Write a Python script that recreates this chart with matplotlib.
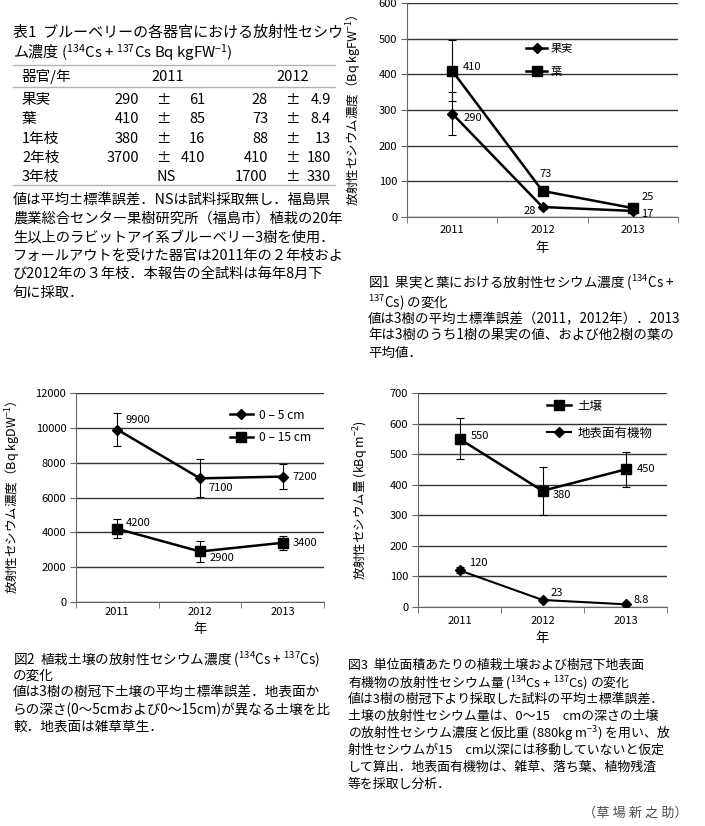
import numpy as np
import matplotlib
matplotlib.use('Agg')
import matplotlib.pyplot as plt
from matplotlib.lines import Line2D

plt.rcParams['font.family'] = ['Noto Sans CJK JP', 'DejaVu Sans']
plt.rcParams['mathtext.fontset'] = 'dejavusans'
plt.rcParams['mathtext.default'] = 'regular'

W, H = 705, 826
years = ['2011', '2012', '2013']

# table 1
organs = ['果実', '葉', '1年枝', '2年枝', '3年枝']
t_mean_2011 = [290, 410, 380, 3700, None]
t_se_2011 = [61, 85, 16, 410, None]
t_mean_2012 = [28, 73, 88, 410, 1700]
t_se_2012 = [4.9, 8.4, 13, 180, 330]

# fig 1
fruit = [290, 28, 17]
fruit_err = [61, 4.9, None]
leaf = [410, 73, 25]
leaf_err = [85, 8.4, None]

# fig 2
soil5 = [9900, 7100, 7200]
soil5_err = [950, 1090, 730]
soil15 = [4200, 2900, 3400]
soil15_err = [545, 600, 400]

# fig 3
soil_amt = [550, 380, 450]
soil_amt_err = [67, 79, 57]
litter = [120, 23, 8.8]
litter_err = [10, None, None]

fig = plt.figure(figsize=(W / 100, H / 100), dpi=100)


def fy(y):
    return 1 - y / H


def txt(x, y, s, **kw):
    kw.setdefault('fontsize', 10)
    kw.setdefault('va', 'center')
    fig.text(x / W, fy(y), s, **kw)


def lines_at(x, ys, lines, **kw):
    for y, s in zip(ys, lines):
        txt(x, y, s, **kw)


def add_ax(x0, y0, x1, y1):
    return fig.add_axes([x0 / W, 1 - y1 / H, (x1 - x0) / W, (y1 - y0) / H])


def style_ax(ax, ymax, ystep, xpad):
    ax.set_xlim(0, 3)
    ax.set_ylim(0, ymax)
    ax.set_yticks(np.arange(0, ymax + 1, ystep))
    ax.set_xticks([0.5, 1.5, 2.5])
    ax.set_xticklabels(years)
    ax.set_xticks([0, 1, 2, 3], minor=True)
    ax.tick_params(axis='x', which='major', length=0, labelsize=8, pad=xpad)
    ax.tick_params(axis='x', which='minor', length=4, direction='out', color='0.4')
    ax.tick_params(axis='y', length=4, direction='out', labelsize=8, pad=3, color='0.4')
    for s in ['top', 'right']:
        ax.spines[s].set_visible(False)
    ax.spines['left'].set_color('0.4')
    ax.spines['bottom'].set_color('0.4')
    ax.grid(axis='y', color='0.2', lw=1)
    ax.set_axisbelow(True)


def series(ax, vals, errs, marker, ms, lw, label):
    x = np.arange(3) + 0.5
    ax.plot(x, vals, color='black', lw=lw, marker=marker, ms=ms, label=label, zorder=3)
    idx = [i for i, e in enumerate(errs) if e is not None]
    ax.errorbar(x[idx], np.array(vals)[idx], yerr=np.array([errs[i] for i in idx]),
                fmt='none', ecolor='black', elinewidth=0.8, capsize=3, capthick=0.8, zorder=2)


def labels(ax, vals, offsets):
    x = np.arange(3) + 0.5
    for xi, v, (dx, dy, ha) in zip(x, vals, offsets):
        ax.annotate(f'{v:g}', (xi, v), xytext=(dx, dy), textcoords='offset points',
                    ha=ha, va='center', fontsize=8)


CS = '($^{134}$Cs + $^{137}$Cs)'

# ---------- table 1 ----------
txt(13, 33, '表1  ブルーベリーの各器官における放射性セシウ', fontsize=10.8)
txt(13, 53, 'ム濃度 ($^{134}$Cs + $^{137}$Cs Bq kgFW$^{-1}$)', fontsize=10.8)
for yy in (65, 87, 185):
    fig.add_artist(Line2D([13 / W, 335 / W], [fy(yy)] * 2, transform=fig.transFigure,
                          color='0.7', lw=1))
txt(22, 77, '器官/年', fontsize=10.5)
txt(168, 77, '2011', fontsize=10.5, ha='center')
txt(293, 77, '2012', fontsize=10.5, ha='center')
row_y = [100, 119, 139, 158, 177]
for i, org in enumerate(organs):
    y = row_y[i]
    txt(22, y, org, fontsize=10.5)
    if t_mean_2011[i] is None:
        txt(166, y, 'NS', fontsize=10.5, ha='center')
    else:
        txt(139, y, f'{t_mean_2011[i]:g}', fontsize=10.5, ha='right')
        txt(163, y, '±', fontsize=10.5, ha='center')
        txt(205, y, f'{t_se_2011[i]:g}', fontsize=10.5, ha='right')
    txt(268, y, f'{t_mean_2012[i]:g}', fontsize=10.5, ha='right')
    txt(292, y, '±', fontsize=10.5, ha='center')
    txt(331, y, f'{t_se_2012[i]:g}', fontsize=10.5, ha='right')

lines_at(13, [200, 218.6, 237.2, 255.8, 274.4, 293], [
    '値は平均±標準誤差．NSは試料採取無し．福島県',
    '農業総合センター果樹研究所（福島市）植栽の20年',
    '生以上のラビットアイ系ブルーベリー3樹を使用．',
    'フォールアウトを受けた器官は2011年の２年枝およ',
    'び2012年の３年枝．本報告の全試料は毎年8月下',
    '旬に採取．',
], fontsize=10.3)

# ---------- fig 1 ----------
ax1 = add_ax(407, 3, 678, 217)
style_ax(ax1, 600, 100, 5.5)
series(ax1, fruit, fruit_err, 'D', 5, 1.8, '果実')
series(ax1, leaf, leaf_err, 's', 7, 1.8, '葉')
labels(ax1, fruit, [(8, -3, 'left'), (-5, -3, 'right'), (6, -2, 'left')])
labels(ax1, leaf, [(8, 3, 'left'), (2, 12, 'center'), (6, 8, 'left')])
ax1.set_ylabel('放射性セシウム濃度（Bq kgFW$^{-1}$）', fontsize=9)
ax1.yaxis.set_label_coords(-0.16, 0.5)
ax1.set_xlabel('年', fontsize=9.5)
ax1.xaxis.set_label_coords(0.5, -0.115)
ax1.legend(loc='upper left', bbox_to_anchor=(0.44, 0.81), frameon=False, fontsize=8,
           handlelength=1.9, handletextpad=0.3, borderpad=0, borderaxespad=0,
           labelspacing=1.2)

lines_at(368, [282, 302, 319, 336, 353], [
    '図1  果実と葉における放射性セシウム濃度 ($^{134}$Cs +',
    '$^{137}$Cs) の変化',
    '値は3樹の平均±標準誤差（2011，2012年）．2013',
    '年は3樹のうち1樹の果実の値、および他2樹の葉の',
    '平均値．',
], fontsize=9.7)

# ---------- fig 2 ----------
ax2 = add_ax(76, 393, 324, 602)
style_ax(ax2, 12000, 2000, 3.5)
series(ax2, soil5, soil5_err, 'D', 5.5, 1.8, '0 – 5 cm')
series(ax2, soil15, soil15_err, 's', 6.5, 1.8, '0 – 15 cm')
labels(ax2, soil5, [(6, 7, 'left'), (6, -7, 'left'), (7, 0, 'left')])
labels(ax2, soil15, [(6, 4, 'left'), (7, -5, 'left'), (7, 0, 'left')])
ax2.set_ylabel('放射性セシウム濃度（Bq kgDW$^{-1}$）', fontsize=9)
ax2.yaxis.set_label_coords(-0.215, 0.5)
ax2.set_xlabel('年', fontsize=9.5)
ax2.xaxis.set_label_coords(0.5, -0.1)
ax2.legend(loc='upper left', bbox_to_anchor=(0.62, 0.925), frameon=False, fontsize=8.7,
           handlelength=1.9, handletextpad=0.5, borderpad=0, borderaxespad=0,
           labelspacing=0.75)

lines_at(13, [659, 676, 693, 710, 727], [
    '図2  植栽土壌の放射性セシウム濃度 ' + CS,
    'の変化',
    '値は3樹の樹冠下土壌の平均±標準誤差．地表面か',
    'らの深さ(0～5cmおよび0～15cm)が異なる土壌を比',
    '較．地表面は雑草草生．',
], fontsize=9.8)

# ---------- fig 3 ----------
ax3 = add_ax(418, 393, 667, 607)
style_ax(ax3, 700, 100, 6.5)
series(ax3, soil_amt, soil_amt_err, 's', 6.5, 1.8, '土壌')
series(ax3, litter, litter_err, 'D', 5, 1.5, '地表面有機物')
labels(ax3, soil_amt, [(8, 2, 'left'), (7, -3, 'left'), (8, 0, 'left')])
labels(ax3, litter, [(7, 5, 'left'), (6, 5, 'left'), (6, 3, 'left')])
ax3.set_ylabel('放射性セシウム量 (kBq m$^{-2}$)', fontsize=9)
ax3.yaxis.set_label_coords(-0.19, 0.5)
ax3.set_xlabel('年', fontsize=9.5)
ax3.xaxis.set_label_coords(0.5, -0.115)
ax3.legend(loc='upper left', bbox_to_anchor=(0.52, 0.97), frameon=False, fontsize=9,
           handlelength=1.9, handletextpad=0.5, borderpad=0, borderaxespad=0,
           labelspacing=1.15)

lines_at(348, [665, 682, 699, 716, 733, 750, 767, 784], [
    '図3  単位面積あたりの植栽土壌および樹冠下地表面',
    '有機物の放射性セシウム量 ' + CS + ' の変化',
    '値は3樹の樹冠下より採取した試料の平均±標準誤差．',
    '土壌の放射性セシウム量は、0～15　cmの深さの土壌',
    'の放射性セシウム濃度と仮比重 (880kg m$^{-3}$) を用い、放',
    '射性セシウムが15　cm以深には移動していないと仮定',
    'して算出．地表面有機物は、雑草、落ち葉、植物残渣',
    '等を採取し分析．',
], fontsize=9.3)

txt(688, 813, '（草 場 新 之 助）', ha='right', color='0.3', fontsize=9.5)

fig.savefig('out.png', dpi=100)
